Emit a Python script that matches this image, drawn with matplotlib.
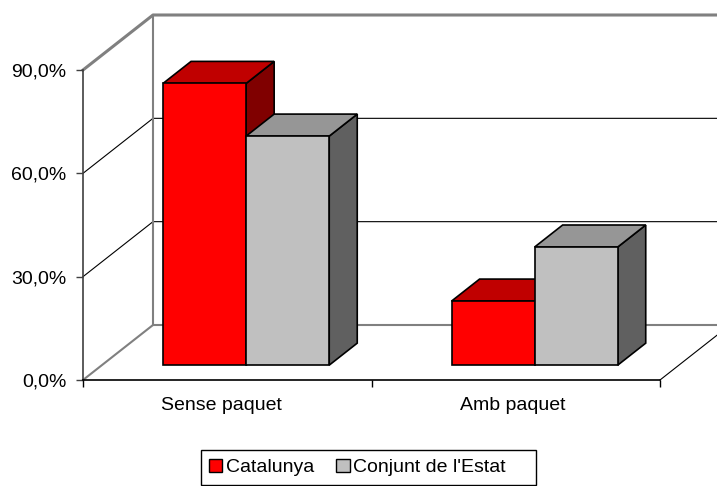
import matplotlib.pyplot as plt
from matplotlib.patches import Polygon, Patch, Rectangle

categories = ["Sense paquet", "Amb paquet"]
series = ["Catalunya", "Conjunt de l'Estat"]
catalunya = [81.8, 18.6]
estat = [66.5, 34.3]
yticks = [0, 30, 60, 90]

plt.rcParams['font.family'] = ['Liberation Sans', 'DejaVu Sans']

fig = plt.figure(figsize=(7.17, 4.86), dpi=100)
ax = fig.add_axes([83 / 717, 106 / 486, 577 / 717, 310 / 486])
ax.set_xlim(0, 2)
ax.set_ylim(0, 90)

# oblique offset of the "3d" box depth, in data units
DX = 70 / 288.5
DY = 55 / (310 / 90)


def depth(x, y, z):
    return (x + DX * z, y + DY * z)


grey = "#808080"

# walls and gridlines
for v in yticks:
    if 0 < v < 90:
        c, lw = "black", 0.8
    else:
        c, lw = grey, 1.5 if v == 0 else 2.2
    ax.plot([0, DX, 2 + DX], [v, v + DY, v + DY], color=c, lw=lw,
            clip_on=False, zorder=1)
ax.plot([DX, DX], [DY, 90 + DY], color=grey, lw=1.5, clip_on=False, zorder=1)
ax.plot([2, 2 + DX], [0, DY], color="black", lw=0.8, clip_on=False, zorder=1)

# bars
bw = 0.288
z0, z1 = 0.27, 0.67
front_cols = ["#ff0000", "#c0c0c0"]
top_cols = ["#c00000", "#969696"]
side_cols = ["#800000", "#606060"]

for i in range(len(categories)):
    for s, vals in enumerate([catalunya, estat]):
        x0 = i + 0.5 - bw + s * bw
        x1 = x0 + bw
        h = vals[i]
        front = [depth(x0, 0, z0), depth(x1, 0, z0), depth(x1, h, z0), depth(x0, h, z0)]
        top = [depth(x0, h, z0), depth(x1, h, z0), depth(x1, h, z1), depth(x0, h, z1)]
        side = [depth(x1, 0, z0), depth(x1, 0, z1), depth(x1, h, z1), depth(x1, h, z0)]
        for pts, c in [(side, side_cols[s]), (top, top_cols[s]), (front, front_cols[s])]:
            ax.add_patch(Polygon(pts, closed=True, fc=c, ec="black", lw=1.2,
                                 zorder=3, clip_on=False, joinstyle="miter"))

for sp in ["top", "right"]:
    ax.spines[sp].set_visible(False)
ax.spines["left"].set_color("#404040")
ax.spines["left"].set_linewidth(1.2)
ax.spines["bottom"].set_color("black")
ax.spines["bottom"].set_linewidth(1.2)
ax.spines["left"].set_zorder(2)

ax.set_yticks(yticks, labels=[f"{v:.1f}%".replace(".", ",") for v in yticks])
ax.tick_params(axis="y", direction="out", length=5, width=1, pad=7,
               labelsize=14, color="#404040")
ax.set_xticks([0, 1, 2], labels=[])
ax.set_xticks([0.48, 1.49], labels=categories, minor=True)
ax.tick_params(axis="x", which="major", direction="out", length=5, width=1)
ax.tick_params(axis="x", which="minor", length=0, pad=12, labelsize=14)

# legend (excel style box, wider on the right than the entries)
handles = [Patch(fc=front_cols[0], ec="black"), Patch(fc=front_cols[1], ec="black")]
leg = fig.legend(handles=handles, labels=series, ncol=2, loc="upper left",
                 bbox_to_anchor=(201 / 717, 1 - 451 / 486), fontsize=14,
                 handlelength=0.7, handleheight=0.7, handletextpad=0.2,
                 columnspacing=1.1, frameon=False, borderaxespad=0, borderpad=0.4)
fig.add_artist(Rectangle((200.5 / 717, 1 - 485 / 486), 335.5 / 717, 35 / 486,
                         transform=fig.transFigure, fill=False, ec="black", lw=1))

fig.savefig("out.png", dpi=100)
